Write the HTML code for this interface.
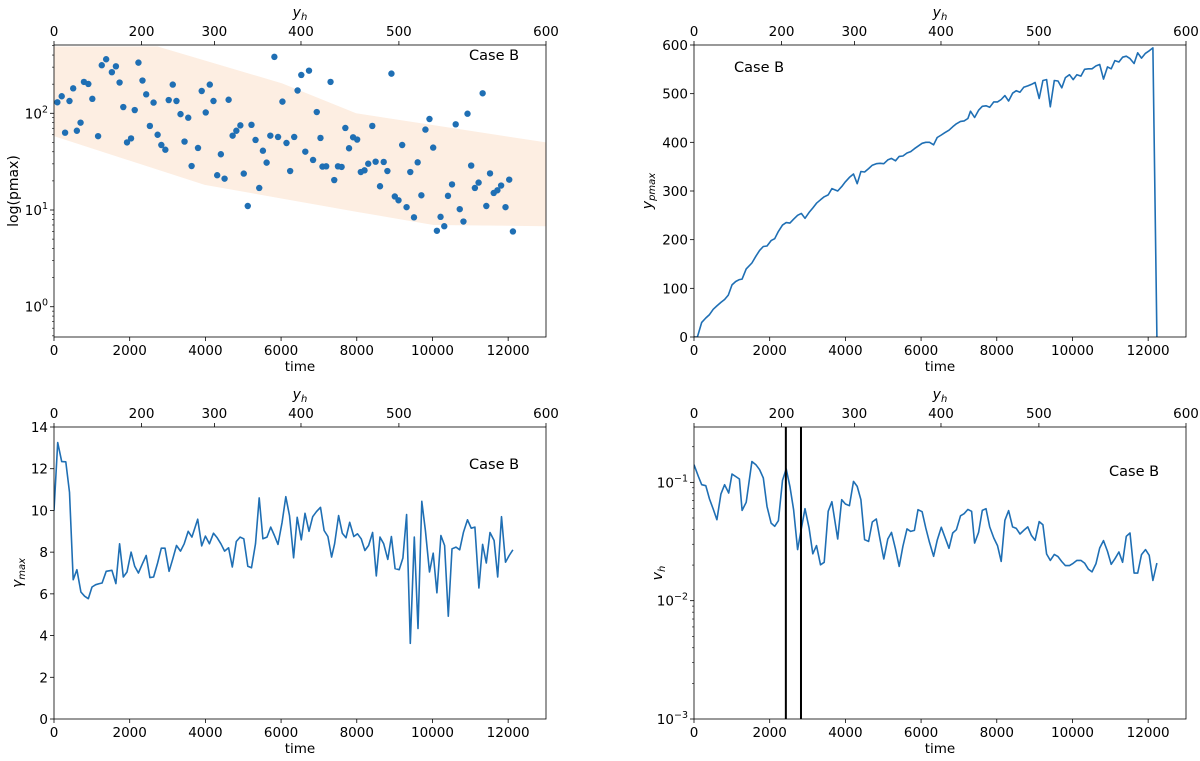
<!DOCTYPE html>
<html><head><meta charset="utf-8"><style>
html,body{margin:0;padding:0;background:#fff;}
svg{display:block;font-family:"DejaVu Sans","Liberation Sans",sans-serif;}
</style></head><body>
<svg id="fig" width="1200" height="761" viewBox="0 0 1200 761" xmlns="http://www.w3.org/2000/svg"></svg>
<script>
// ---- top-left: pmax scatter ----
const pmaxTime=[89,204,293,409,507,604,702,791,907,1013,1165,1262,1378,1529,1636,1733,1831,1929,2036,2133,2231,2338,2436,2533,2631,2738,2836,2942,3031,3138,3236,3343,3449,3547,3636,3805,3903,4009,4116,4214,4312,4409,4507,4614,4720,4818,4924,5014,5120,5218,5325,5423,5520,5618,5716,5823,5920,6036,6143,6240,6347,6436,6534,6640,6738,6845,6943,7041,7094,7192,7307,7405,7503,7600,7698,7796,7903,8010,8107,8205,8303,8410,8498,8614,8712,8809,8916,9005,9103,9200,9316,9414,9512,9609,9707,9814,9921,10019,10117,10214,10312,10410,10517,10614,10721,10819,10926,11023,11121,11219,11326,11423,11521,11619,11716,11814,11930,12028,12126];
const pmaxVal=[130,150,63,134,181,66,80,211,201,141,58,314,362,266,306,208,116,50,55,108,334,218,157,74,129,60,47,42,137,198,134,98,51,90,28.5,43.8,170,102,198,134,22.9,37.7,21.1,138,58.7,66,75,23.8,11,76,53,16.9,41,30.9,58.7,383,56.9,132,49.3,25.3,56.9,172,249,40.1,276,32.9,103,55.6,28.1,28.3,211,20.4,28.3,27.9,70.5,43.5,56.5,53.5,24.7,25.7,30.1,74,31.6,17.6,31.4,25.3,257,13.8,12.6,47,10.7,24.7,8.4,31.1,14.2,67.8,87.3,44.2,6.1,8.5,6.8,14,18.4,76.9,10.2,7.6,99,28.8,16.9,19.2,161,11,23.9,15,16,17.9,10.7,20.6,6];
const bandUpTime=[0,2738,6027,7982,13000];
const bandUpVal=[490,490,204,100,50];
const bandLoTime=[0,3982,7982,10027,13000];
const bandLoVal=[58,18.2,9.6,7.0,6.8];
// ---- top-right: y_pmax ----
const ypTime=[0,89,204,311,409,507,604,711,809,907,1004,1102,1200,1271,1378,1529,1636,1733,1831,1929,2036,2133,2231,2338,2436,2533,2631,2738,2836,2933,3040,3138,3236,3343,3440,3547,3645,3796,3903,4000,4107,4214,4312,4409,4507,4614,4711,4818,4916,5014,5120,5218,5325,5423,5520,5627,5725,5823,5920,6027,6125,6223,6330,6427,6534,6632,6738,6836,6934,7041,7138,7236,7307,7414,7520,7618,7716,7814,7921,8019,8116,8214,8312,8419,8516,8614,8712,8819,8916,9014,9121,9219,9316,9414,9521,9619,9717,9814,9921,10019,10117,10223,10321,10419,10517,10623,10721,10819,10926,11023,11121,11228,11326,11423,11521,11628,11725,11823,11930,12028,12126,12232];
const ypVal=[0,0,30,39,46,57,64,71,77,86,107,114,118,119,140,152,166,178,186,187,198,202,217,230,235,234,242,250,254,244,256,265,275,282,288,292,305,300,309,319,328,335,315,340,339,346,353,356,357,356,364,367,362,371,372,378,381,387,392,398,400,400,395,410,415,420,425,432,438,443,444,449,464,451,466,474,475,472,483,483,488,496,485,501,506,503,513,516,519,523,490,527,529,473,527,526,512,533,539,529,539,536,550,551,551,557,560,530,555,551,568,565,575,577,572,562,584,573,583,588,594,0];
// ---- bottom-left: gamma_max ----
const gTime=[0,98,204,311,409,507,604,711,809,907,1004,1102,1200,1271,1378,1529,1636,1733,1831,1929,2036,2133,2231,2338,2436,2533,2631,2738,2836,2933,3040,3138,3236,3343,3440,3547,3645,3796,3903,4000,4107,4214,4312,4409,4507,4614,4711,4818,4916,5014,5120,5218,5325,5423,5520,5627,5725,5823,5920,6027,6125,6223,6330,6427,6534,6632,6738,6836,6934,7041,7138,7236,7334,7414,7520,7618,7716,7814,7921,8019,8116,8214,8312,8419,8516,8614,8712,8819,8916,9014,9121,9219,9316,9414,9521,9619,9717,9814,9921,10019,10117,10223,10321,10419,10517,10623,10721,10819,10926,11023,11121,11228,11326,11423,11521,11628,11725,11823,11930,12028,12126];
const gVal=[9.99,13.25,12.34,12.33,10.87,6.68,7.16,6.09,5.89,5.77,6.33,6.44,6.49,6.52,7.08,7.13,6.49,8.40,6.81,7.05,8.00,7.32,7.00,7.45,7.84,6.78,6.81,7.48,8.19,8.19,7.08,7.68,8.32,8.05,8.40,9.00,8.72,9.58,8.30,8.77,8.40,8.91,8.69,8.40,8.05,8.21,7.29,8.51,8.72,8.64,7.32,7.25,8.40,10.60,8.64,8.72,9.20,8.80,8.37,9.43,10.66,9.75,7.73,9.67,8.59,9.86,9.00,9.70,9.94,10.15,9.04,8.75,7.76,8.40,9.75,8.91,8.69,9.43,8.75,8.88,8.64,8.08,8.32,8.94,6.86,8.72,8.40,7.65,8.75,7.21,7.16,7.72,9.80,3.63,8.72,4.34,10.44,9.04,7.05,7.95,6.05,8.80,8.32,4.93,8.16,8.24,8.11,8.96,9.55,9.15,9.20,6.28,8.37,7.48,8.94,8.56,6.81,9.70,7.52,7.84,8.11];
// ---- bottom-right: v_h ----
const vTime=[0,116,204,311,409,507,604,711,809,916,1004,1102,1200,1271,1378,1529,1636,1733,1831,1929,2036,2133,2231,2338,2436,2533,2631,2738,2836,2933,3040,3138,3236,3343,3440,3547,3645,3796,3903,4000,4107,4214,4312,4409,4507,4614,4711,4818,4916,5014,5120,5218,5325,5423,5520,5627,5725,5823,5920,6027,6125,6223,6330,6427,6534,6632,6738,6836,6934,7041,7138,7236,7334,7414,7520,7618,7716,7814,7921,8019,8116,8214,8312,8419,8516,8614,8712,8819,8916,9014,9121,9219,9316,9414,9521,9619,9717,9814,9921,10019,10117,10223,10321,10419,10517,10623,10721,10819,10926,11023,11121,11228,11326,11423,11521,11628,11725,11823,11930,12028,12126,12232];
const vVal=[0.141,0.112,0.0955,0.0937,0.0723,0.0595,0.0484,0.0796,0.0955,0.0813,0.1175,0.112,0.1067,0.058,0.0678,0.150,0.141,0.128,0.109,0.0627,0.0453,0.0425,0.0474,0.104,0.130,0.0925,0.0587,0.0270,0.0404,0.0599,0.0411,0.0249,0.0292,0.0201,0.0211,0.0569,0.0687,0.0332,0.0714,0.0656,0.0635,0.102,0.0925,0.0714,0.0328,0.0317,0.0462,0.0490,0.0328,0.0225,0.0332,0.0378,0.0273,0.0195,0.0288,0.0404,0.0385,0.0393,0.0587,0.0565,0.0411,0.0311,0.0237,0.0324,0.0417,0.0343,0.0277,0.0373,0.0398,0.0522,0.0543,0.0591,0.0569,0.0307,0.0378,0.058,0.0599,0.0420,0.0339,0.0292,0.0215,0.0478,0.0577,0.0420,0.0408,0.0366,0.0393,0.0420,0.0356,0.0324,0.0466,0.0439,0.0248,0.0219,0.0246,0.0236,0.0214,0.0198,0.0198,0.0207,0.0219,0.0219,0.0208,0.0185,0.0175,0.0206,0.0279,0.0322,0.0261,0.0203,0.0226,0.0258,0.0211,0.0350,0.0373,0.0171,0.0171,0.0245,0.0270,0.0242,0.0148,0.0208];
const vLineTimes=[2427,2827];
// ---- axis tick labels ----
const timeTicks=[0,2000,4000,6000,8000,10000,12000];
const yhTickLabels=["0","200","300","400","500","600"];
const yhTickFrac=[0,0.178,0.326,0.502,0.701,1];
const ypTicks=[0,100,200,300,400,500,600];
const gTicks=[0,2,4,6,8,10,12,14];

const NS="http://www.w3.org/2000/svg";
const svg=document.getElementById('fig');
const BLUE="#1f6fb4";
function mk(tag,attrs,parent){const e=document.createElementNS(NS,tag);for(const k in attrs)e.setAttribute(k,attrs[k]);(parent||svg).appendChild(e);return e;}
function txt(s,x,y,anchor,size,parent){const t=mk('text',{x:x,y:y,'text-anchor':anchor||'middle','font-size':size||13.5,fill:'#000'},parent);t.textContent=s;return t;}

const panels={
 tl:{L:54,R:546,T:45,B:337,x0:0,x1:13000,log:true,y0:-0.313,y1:2.706},
 tr:{L:694,R:1186,T:45,B:337,x0:0,x1:13000,log:false,y0:0,y1:600},
 bl:{L:54,R:546,T:427,B:719,x0:0,x1:13000,log:false,y0:0,y1:14},
 br:{L:694,R:1186,T:427,B:719,x0:0,x1:13000,log:true,y0:-3,y1:-0.532}
};
function sx(p,v){return p.L+(v-p.x0)/(p.x1-p.x0)*(p.R-p.L);}
function sy(p,v){const u=p.log?Math.log10(v):v;return p.B-(u-p.y0)/(p.y1-p.y0)*(p.B-p.T);}

function frame(key,name,ylabel,yticks,logDecades){
 const p=panels[key];
 const g=mk('g',{});
 
 
 const xa=mk('g',{},g);
 
 
 timeTicks.forEach(t=>{const x=sx(p,t);mk('line',{x1:x,x2:x,y1:p.B,y2:p.B+4,stroke:'#000','stroke-width':0.8},xa);txt(String(t),x,p.B+18,'middle',13.5,xa);});
 const xl=txt('time',(p.L+p.R)/2,p.B+34,'middle',13.5,xa);
 
 
 const ta=mk('g',{},g);
 
 
 yhTickLabels.forEach((s,i)=>{const x=p.L+yhTickFrac[i]*(p.R-p.L);mk('line',{x1:x,x2:x,y1:p.T,y2:p.T-4,stroke:'#000','stroke-width':0.8},ta);txt(s,x,p.T-9,'middle',13.5,ta);});
 const tt=mk('text',{x:(p.L+p.R)/2,y:p.T-28,'text-anchor':'middle','font-size':14,'font-style':'italic'},ta);
 tt.innerHTML='y<tspan font-size="10" dy="3">h</tspan>';
 
 
 const ya=mk('g',{},g);
 
 
 if(logDecades){
  logDecades.forEach(d=>{const y=sy(p,Math.pow(10,d));mk('line',{x1:p.L,x2:p.L-4,y1:y,y2:y,stroke:'#000','stroke-width':0.8},ya);
   const t=mk('text',{x:p.L-6,y:y+5,'text-anchor':'end','font-size':13.5},ya);
   t.innerHTML='10<tspan font-size="9.5" dy="-6">'+(d<0?'\u2212'+(-d):d)+'</tspan>';});
  for(let d=Math.floor(p.y0);d<Math.ceil(p.y1);d++){for(let m=2;m<10;m++){const u=d+Math.log10(m);if(u<p.y0||u>p.y1)continue;const y=p.B-(u-p.y0)/(p.y1-p.y0)*(p.B-p.T);mk('line',{x1:p.L,x2:p.L-2,y1:y,y2:y,stroke:'#000','stroke-width':0.6},ya);}}
 } else {
  yticks.forEach(v=>{const y=sy(p,v);mk('line',{x1:p.L,x2:p.L-4,y1:y,y2:y,stroke:'#000','stroke-width':0.8},ya);txt(String(v),p.L-6,y+5,'end',13.5,ya);});
 }
 const cy=(p.T+p.B)/2;
 const yl=mk('text',{x:0,y:0,'text-anchor':'middle','font-size':14,transform:'translate('+(ylabel.x)+','+cy+') rotate(-90)'},ya);
 yl.innerHTML=ylabel.html;
 
 
 return g;
}
function border(key){const p=panels[key];const r=mk('rect',{x:p.L,y:p.T,width:p.R-p.L,height:p.B-p.T,fill:'none',stroke:'#000','stroke-width':0.8});
 
 }
function caseLabel(x,y){const t=txt('Case B',x,y,'start',14.5);
 
 }
function clip(key){const p=panels[key];const c=mk('clipPath',{id:'clip-'+key});mk('rect',{x:p.L,y:p.T,width:p.R-p.L,height:p.B-p.T},c);return 'url(#clip-'+key+')';}
function linePath(key,ts,vs,name){const p=panels[key];let d='';ts.forEach((t,i)=>{d+=(i?'L':'M')+sx(p,t).toFixed(1)+','+sy(p,vs[i]).toFixed(1);});
 const path=mk('path',{d:d,fill:'none',stroke:BLUE,'stroke-width':1.6,'stroke-linejoin':'round','clip-path':clip(key)});
 
 }

(function(){const p=panels.tl;
 frame('tl','panel-pmax',{x:18,html:'log(pmax)'},null,[0,1,2]);
 let d='';bandUpTime.forEach((t,i)=>{d+=(i?'L':'M')+sx(p,t)+','+sy(p,bandUpVal[i]);});
 for(let i=bandLoTime.length-1;i>=0;i--){d+='L'+sx(p,bandLoTime[i])+','+sy(p,bandLoVal[i]);}
 const band=mk('path',{d:d+'Z',fill:'#fdeee2','clip-path':clip('tl')});
 
 
 pmaxTime.forEach((t,i)=>{const c=mk('circle',{cx:sx(p,t),cy:sy(p,pmaxVal[i]),r:3.2,fill:BLUE});
  
  });
 border('tl');caseLabel(469,60);})();
(function(){frame('tr','panel-ypmax',{x:652,html:'<tspan font-style="italic">y</tspan><tspan font-size="10" dy="3" font-style="italic">pmax</tspan>'},ypTicks,null);
 linePath('tr',ypTime,ypVal,'ypmax-line');border('tr');caseLabel(734,72);})();
(function(){frame('bl','panel-gamma',{x:22,html:'<tspan font-style="italic">γ</tspan><tspan font-size="10" dy="3" font-style="italic">max</tspan>'},gTicks,null);
 linePath('bl',gTime,gVal,'gamma-max-line');border('bl');caseLabel(469,469);})();
(function(){const p=panels.br;frame('br','panel-vh',{x:662,html:'<tspan font-style="italic">v</tspan><tspan font-size="10" dy="3" font-style="italic">h</tspan>'},null,[-3,-2,-1]);
 linePath('br',vTime,vVal,'vh-line');
 vLineTimes.forEach(t=>{const x=sx(p,t);const l=mk('line',{x1:x,x2:x,y1:p.T,y2:p.B,stroke:'#000','stroke-width':2});
  
  });
 border('br');caseLabel(1109,476);})();
</script>
</body></html>
